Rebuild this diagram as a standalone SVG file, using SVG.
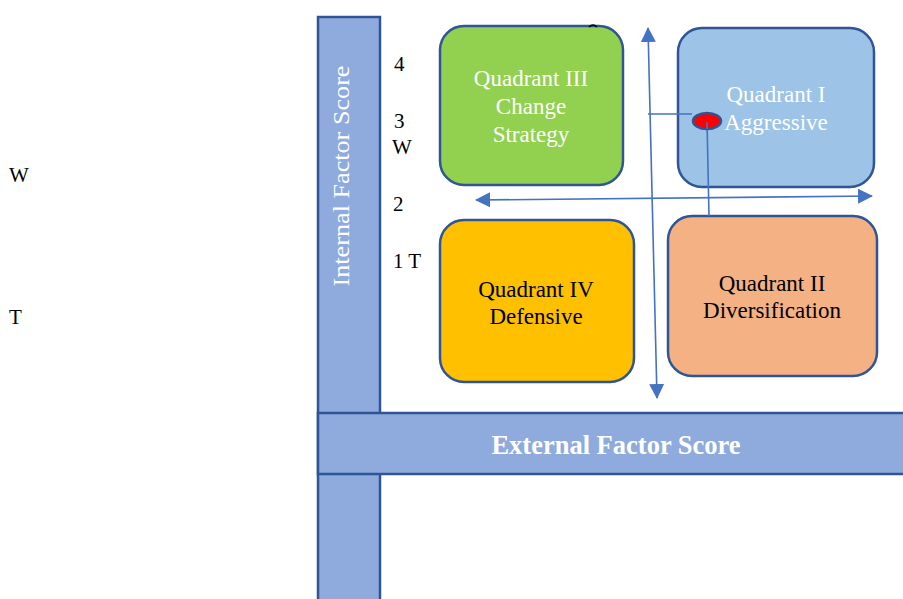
<svg xmlns="http://www.w3.org/2000/svg" width="903" height="599" viewBox="0 0 903 599">
<style>
.bar{fill:#8FAADC;stroke:#2F5597;stroke-width:2.5}
.box{stroke:#2F5597;stroke-width:2.5}
.qt{font-family:"Liberation Serif","Times New Roman",serif;font-size:23px;text-anchor:middle}
.lbl{font-family:"Liberation Serif","Times New Roman",serif;font-size:21px;fill:#000}
.conn{stroke:#4472C4;stroke-width:1.6;fill:none}
</style>
<defs>
<marker id="ah" markerUnits="userSpaceOnUse" markerWidth="16" markerHeight="16" refX="14" refY="7.5" orient="auto-start-reverse" viewBox="0 0 16 15">
<path d="M0,0 L15,7.5 L0,15 Z" fill="#4472C4"/>
</marker>
</defs>
<rect width="903" height="599" fill="#fff"/>
<text class="lbl" x="9" y="182">W</text>
<text class="lbl" x="9" y="324">T</text>
<g id="internal-axis">
<rect class="bar" x="318" y="17" width="62" height="600"/>
<text transform="translate(349,176) rotate(-90)" text-anchor="middle" font-family="Liberation Serif, Times New Roman, serif" font-size="24" fill="#fff" textLength="221" lengthAdjust="spacingAndGlyphs">Internal Factor Score</text>
</g>
<g id="external-axis">
<rect class="bar" x="318" y="413" width="600" height="61"/>
<text x="616" y="454" text-anchor="middle" font-family="Liberation Serif, Times New Roman, serif" font-size="26.5" font-weight="bold" fill="#fff">External Factor Score</text>
</g>
<g id="scale-labels">
<text class="lbl" x="394" y="71">4</text>
<text class="lbl" x="394" y="128">3</text>
<text class="lbl" x="392" y="154">W</text>
<text class="lbl" x="393" y="211">2</text>
<text class="lbl" x="393" y="268">1 T</text>
</g>
<g id="q3">
<rect class="box" x="440" y="26" width="183" height="159" rx="24" fill="#92D050"/>
<text class="qt" fill="#fff"><tspan x="531" y="86">Quadrant III</tspan><tspan x="531" y="114">Change</tspan><tspan x="531" y="142">Strategy</tspan></text>
<path d="M589,27 q4,-4 8,0" stroke="#000" stroke-width="1.5" fill="none"/>
</g>
<g id="q1">
<rect class="box" x="678" y="28" width="196" height="159" rx="24" fill="#9DC3E6"/>
<text class="qt" fill="#fff"><tspan x="776" y="102">Quadrant I</tspan><tspan x="776" y="130">Aggressive</tspan></text>
</g>
<g id="q4">
<rect class="box" x="440" y="220" width="194" height="162" rx="24" fill="#FFC000"/>
<text class="qt" fill="#000"><tspan x="536" y="297">Quadrant IV</tspan><tspan x="536" y="324">Defensive</tspan></text>
</g>
<g id="q2">
<rect class="box" x="668" y="216" width="209" height="160" rx="24" fill="#F4B183"/>
<text class="qt" fill="#000"><tspan x="772" y="291">Quadrant II</tspan><tspan x="772" y="318">Diversification</tspan></text>
</g>
<g id="connectors">
<line class="conn" x1="648" y1="28" x2="657" y2="398" marker-start="url(#ah)" marker-end="url(#ah)"/>
<line class="conn" x1="476" y1="200" x2="872" y2="196" marker-start="url(#ah)" marker-end="url(#ah)"/>
<line class="conn" x1="648" y1="114" x2="692" y2="114"/>
<line class="conn" x1="707" y1="121" x2="709" y2="216"/>
</g>
<g id="position-marker">
<ellipse cx="707" cy="121" rx="14" ry="8" fill="#FF0000" stroke="#2F5597" stroke-width="2.5"/>
<line class="conn" x1="707" y1="122" x2="707.2" y2="129"/>
</g>
</svg>
